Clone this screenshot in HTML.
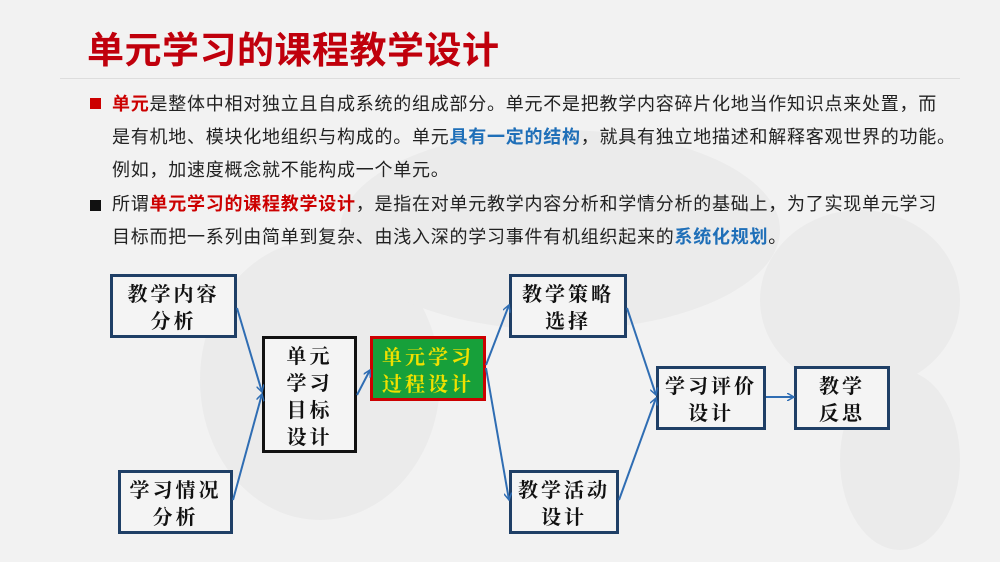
<!DOCTYPE html>
<html><head><meta charset="utf-8"><style>
body{margin:0;width:1000px;height:562px;overflow:hidden;background:#f2f2f2;font-family:"Liberation Sans","Noto Sans CJK SC",sans-serif;position:relative}
.t{position:absolute;left:87px;top:20px;font-size:37px;font-weight:bold;color:#c0000c;letter-spacing:0.5px}
.hr{position:absolute;left:60px;top:78px;width:900px;height:1px;background:#ddd}
.p{position:absolute;left:112px;font-size:18px;color:#222;line-height:33px;width:870px;letter-spacing:0.75px;white-space:nowrap}
.sq{position:absolute;left:90px;width:11px;height:11px}
.r{color:#c00;font-weight:bold}.b{color:#1f6fb8;font-weight:bold}
.bx{position:absolute;box-sizing:border-box;border:3px solid #1f3f66;background:#f4f4f4;font-family:"Noto Serif CJK SC",serif;font-weight:bold;font-size:20px;text-align:center;display:flex;align-items:center;justify-content:center;line-height:27px;color:#111;letter-spacing:3px}
</style></head><body>
<svg width="1000" height="562" style="position:absolute;left:0;top:0">
<g fill="#ebebeb"><ellipse cx="320" cy="380" rx="120" ry="140"/><ellipse cx="560" cy="230" rx="220" ry="100"/><ellipse cx="860" cy="300" rx="100" ry="90"/><ellipse cx="900" cy="460" rx="60" ry="90"/></g>
</svg>
<div class="t">单元学习的课程教学设计</div>
<div class="hr"></div>
<div class="sq" style="top:98px;background:#c00"></div>
<div class="p" style="top:88px">
<span class="r">单元</span>是整体中相对独立且自成系统的组成部分。单元不是把教学内容碎片化地当作知识点来处置，而<br>是有机地、模块化地组织与构成的。单元<span class="b">具有一定的结构</span>，就具有独立地描述和解释客观世界的功能。<br>例如，加速度概念就不能构成一个单元。</div>
<div class="sq" style="top:200px;background:#111"></div>
<div class="p" style="top:188px">所谓<span class="r">单元学习的课程教学设计</span>，是指在对单元教学内容分析和学情分析的基础上，为了实现单元学习<br>目标而把一系列由简单到复杂、由浅入深的学习事件有机组织起来的<span class="b">系统化规划</span>。</div>
<div class="bx" style="left:110px;top:274px;width:127px;height:64px">教学内容<br>分析</div>
<div class="bx" style="left:118px;top:470px;width:115px;height:64px">学习情况<br>分析</div>
<div class="bx" style="left:262px;top:336px;width:95px;height:117px;border-color:#111">单元<br>学习<br>目标<br>设计</div>
<div class="bx" style="left:370px;top:336px;width:116px;height:65px;border-color:#c00;background:#17a03a;color:#f0e000">单元学习<br>过程设计</div>
<div class="bx" style="left:509px;top:274px;width:118px;height:64px">教学策略<br>选择</div>
<div class="bx" style="left:509px;top:470px;width:110px;height:64px">教学活动<br>设计</div>
<div class="bx" style="left:656px;top:366px;width:110px;height:64px">学习评价<br>设计</div>
<div class="bx" style="left:794px;top:366px;width:96px;height:64px">教学<br>反思</div>
<svg width="1000" height="562" style="position:absolute;left:0;top:0">
<defs><marker id="a" markerWidth="8" markerHeight="8" refX="7" refY="4" orient="auto" markerUnits="userSpaceOnUse"><path d="M0,0 L7,4 L0,8" fill="none" stroke="#2f6db3" stroke-width="1.5"/></marker></defs>
<g stroke="#2f6db3" stroke-width="2" fill="none" marker-end="url(#a)">
<line x1="237" y1="308" x2="262" y2="392"/>
<line x1="233" y1="500" x2="262" y2="394"/>
<line x1="357" y1="395" x2="370" y2="370"/>
<line x1="486" y1="365" x2="509" y2="305"/>
<line x1="486" y1="368" x2="509" y2="500"/>
<line x1="627" y1="308" x2="656" y2="395"/>
<line x1="619" y1="500" x2="656" y2="398"/>
<line x1="766" y1="397" x2="794" y2="397"/>
</g></svg>
</body></html>
